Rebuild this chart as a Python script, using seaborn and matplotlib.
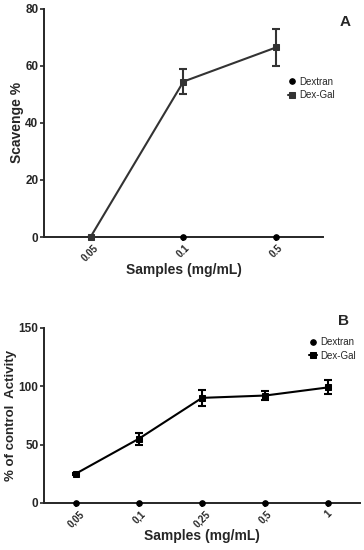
import pandas as pd
import matplotlib
matplotlib.use('Agg')
import matplotlib.pyplot as plt
import numpy as np
import seaborn as sns

# Panel A data
conc_a = ['0.05', '0.1', '0.5']
dextran_a = [0, 0, 0]
dexgal_a = [0, 54.5, 66.5]
dexgal_a_err = [0, 4.5, 6.5]

# Panel B data
conc_b = ['0,05', '0,1', '0,25', '0,5', '1']
dextran_b = [0, 0, 0, 0, 0]
dexgal_b = [25, 55, 90, 92, 99]
dexgal_b_err = [1, 5, 7, 4, 6]

sns.set_style('ticks')
plt.rcParams['font.family'] = ['Liberation Sans', 'DejaVu Sans']
plt.rcParams['font.weight'] = 'bold'


def draw_panel(ax, conc, dextran, dexgal, err, color, ylim, yticks, ylabel, ylabel_size,
               letter, letter_pos, leg_pos):
    x = np.arange(len(conc))
    df = pd.DataFrame({'x': np.concatenate([x, x]),
                       'y': dextran + dexgal,
                       'group': ['Dextran'] * len(x) + ['Dex-Gal'] * len(x)})
    sns.lineplot(data=df[df.group == 'Dex-Gal'], x='x', y='y', ax=ax, color=color,
                 marker='s', markersize=5, linewidth=1.5, markeredgecolor=color,
                 label='Dex-Gal', zorder=4, clip_on=False)
    sns.lineplot(data=df[df.group == 'Dextran'], x='x', y='y', ax=ax, color='black',
                 marker='o', markersize=4, linewidth=0, markeredgecolor='black',
                 label='Dextran', zorder=3, clip_on=False)
    ax.errorbar(x, dexgal, yerr=err, fmt='none', ecolor=color, elinewidth=1.5,
                capsize=3, capthick=1.5, zorder=2)
    ax.set_xlim(-0.5, len(conc) - 0.5)
    ax.set_ylim(*ylim)
    ax.set_yticks(yticks)
    ax.set_xticks(x)
    ax.set_xticklabels(conc, rotation=45, fontsize=7, fontweight='bold')
    ax.tick_params(axis='y', labelsize=8.5, width=1.2, length=3, pad=1)
    ax.tick_params(axis='x', width=1.2, length=3, pad=1)
    for lbl in ax.get_yticklabels():
        lbl.set_fontweight('bold')
    sns.despine(ax=ax)
    ax.spines['left'].set_linewidth(1.4)
    ax.spines['bottom'].set_linewidth(1.4)
    ax.set_ylabel(ylabel, fontsize=ylabel_size, fontweight='bold', labelpad=1)
    ax.set_xlabel('Samples (mg/mL)', fontsize=10, fontweight='bold', labelpad=0)
    handles, labels = ax.get_legend_handles_labels()
    order = [labels.index('Dextran'), labels.index('Dex-Gal')]
    leg = ax.legend([handles[i] for i in order], [labels[i] for i in order],
                    loc='upper left', bbox_to_anchor=leg_pos, frameon=False,
                    fontsize=7, handlelength=0.8, handletextpad=0.4,
                    labelspacing=0.4, borderaxespad=0)
    for t in leg.get_texts():
        t.set_fontweight('normal')
    ax.text(letter_pos[0], letter_pos[1], letter, transform=ax.transAxes,
            fontsize=11, fontweight='bold', va='center')


fig = plt.figure(figsize=(3.64, 5.5), dpi=100)
ax_a = fig.add_axes([0.121, 0.569, 0.766, 0.415])
ax_b = fig.add_axes([0.121, 0.0855, 0.868, 0.3185])

draw_panel(ax_a, conc_a, dextran_a, dexgal_a, dexgal_a_err, '#333333',
           (0, 80), [0, 20, 40, 60, 80], 'Scavenge %', 10,
           'A', (1.06, 0.94), (0.86, 0.72))
draw_panel(ax_b, conc_b, dextran_b, dexgal_b, dexgal_b_err, 'black',
           (0, 150), [0, 50, 100, 150], '% of control  Activity', 9.5,
           'B', (0.93, 1.04), (0.826, 0.97))

fig.savefig('out.png', dpi=100)
